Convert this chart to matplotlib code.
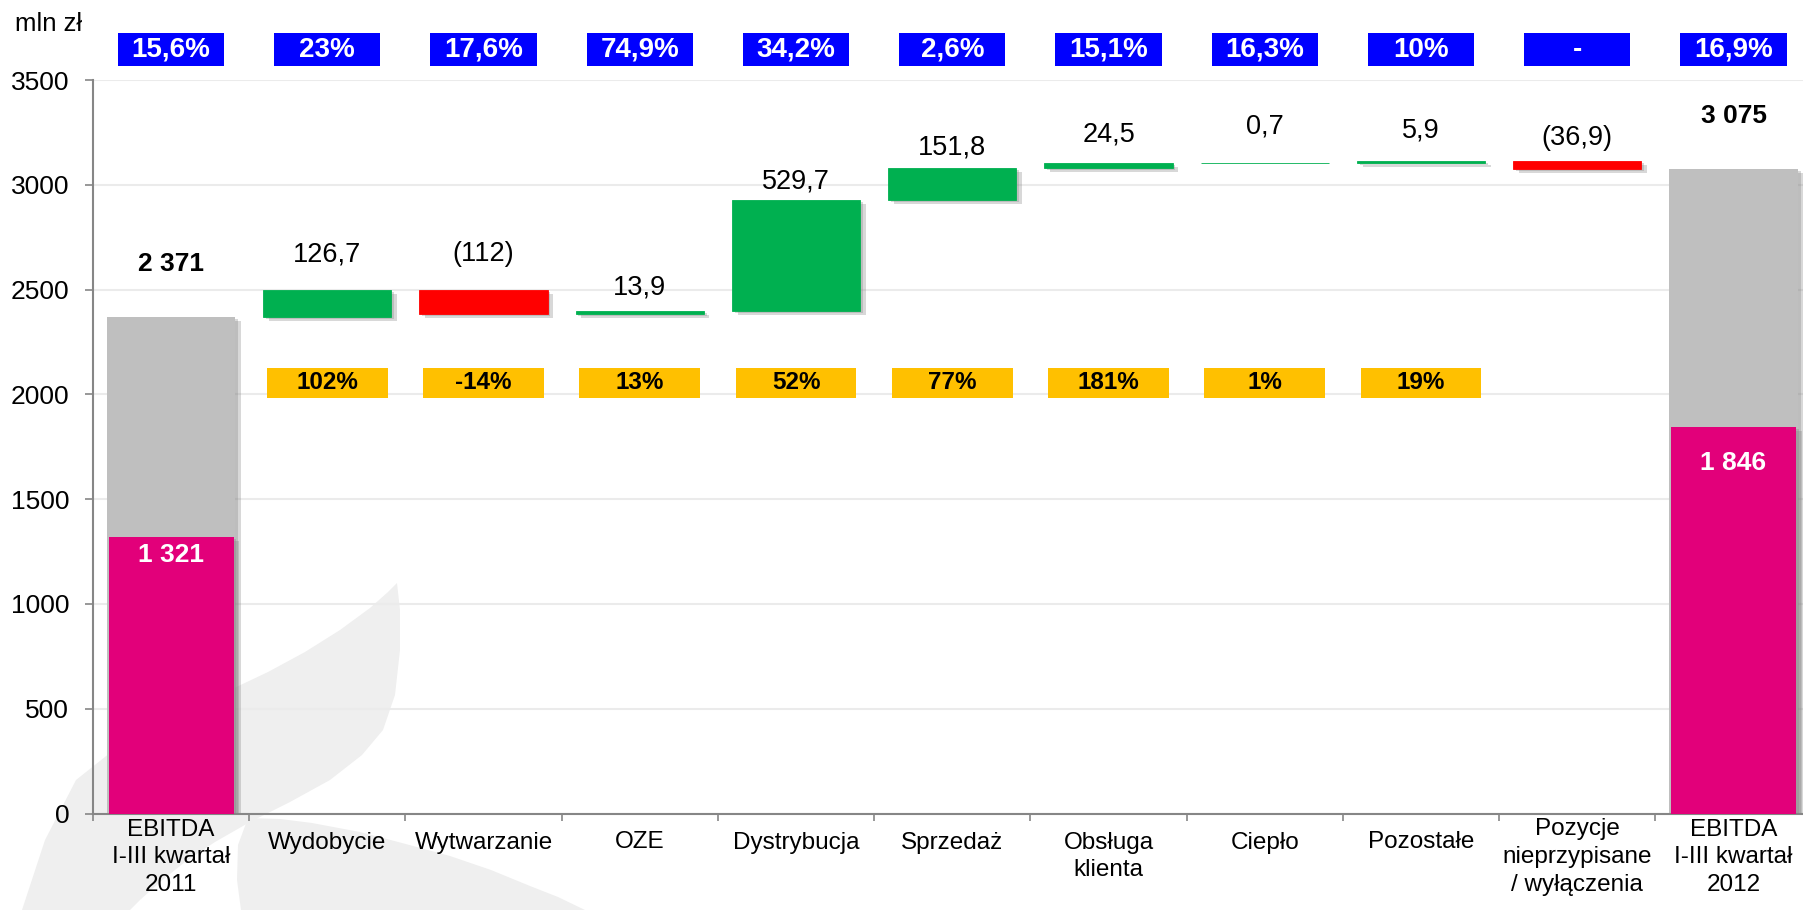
import numpy as np
import matplotlib
matplotlib.use('Agg')
import matplotlib.pyplot as plt
from matplotlib.patches import Rectangle, PathPatch
from matplotlib.path import Path
from matplotlib.transforms import blended_transform_factory
import matplotlib.patheffects as pe

plt.rcParams['font.family'] = ['Liberation Sans', 'DejaVu Sans']

# dane
categories = ['EBITDA\nI-III kwartał\n2011', 'Wydobycie', 'Wytwarzanie', 'OZE', 'Dystrybucja',
              'Sprzedaż', 'Obsługa\nklienta', 'Ciepło', 'Pozostałe',
              'Pozycje\nnieprzypisane\n/ wyłączenia', 'EBITDA\nI-III kwartał\n2012']
start_total = 2371
end_total = 3075
changes = [126.7, -112, 13.9, 529.7, 151.8, 24.5, 0.7, 5.9, -36.9]
pink_part = [1321, 1846]
margins = ['15,6%', '23%', '17,6%', '74,9%', '34,2%', '2,6%', '15,1%', '16,3%', '10%', '-', '16,9%']
growth = ['102%', '-14%', '13%', '52%', '77%', '181%', '1%', '19%']

# kolory
c_grey = '#BFBFBF'
c_pink = '#E2007A'
c_green = '#00B050'
c_red = '#FF0000'
c_blue = '#0000FF'
c_yellow = '#FFC000'
c_axis = '#868686'

# odstepy etykiet nad slupkami (piksele)
label_gap = [36, 36, 23, 18, 20, 28, 36, 31, 23]

W, H = 1803, 910
fig = plt.figure(figsize=(W / 100, H / 100), dpi=100)
fig.patch.set_facecolor('white')


def px(x, y):
    return (x / W, 1 - y / H)


# znak wodny w tle
wm_a = [(22, 910), (45, 840), (76, 780), (120, 745), (175, 715), (230, 690), (268, 672),
        (305, 652), (340, 630), (370, 608), (388, 592), (397, 583),
        (400, 610), (400, 650), (395, 695), (383, 730), (362, 755), (330, 780), (290, 802),
        (250, 822), (215, 842), (185, 862), (160, 882), (140, 900), (130, 910)]
wm_b = [(248, 818), (280, 819), (312, 823), (360, 832), (402, 843), (450, 856), (491, 870),
        (530, 886), (558, 897), (585, 910), (241, 910), (237, 880), (238, 845)]
for pts in (wm_a, wm_b):
    verts = [px(*p) for p in pts] + [px(*pts[0])]
    codes = [Path.MOVETO] + [Path.LINETO] * (len(pts) - 1) + [Path.CLOSEPOLY]
    fig.patches.append(PathPatch(Path(verts, codes), transform=fig.transFigure,
                                 facecolor='#EFEFEF', edgecolor='none', zorder=-5))

ax = fig.add_axes([92.9 / W, (H - 813.5) / H, 1718.75 / W, (813.5 - 80) / H])
ax.set_facecolor('none')
ax.set_xlim(-0.5, 10.5)
ax.set_ylim(0, 3500)

shadow = [pe.SimplePatchShadow(offset=(4, -3), shadow_rgbFace='#808080', alpha=0.3),
          pe.SimplePatchShadow(offset=(2, -1.5), shadow_rgbFace='#808080', alpha=0.3),
          pe.Normal()]

# slupki poczatkowy i koncowy
for i, tot, pk in [(0, start_total, pink_part[0]), (10, end_total, pink_part[1])]:
    ax.bar(i, tot, width=0.825, color=c_grey, zorder=2, path_effects=shadow)
    ax.bar(i, pk, width=0.80, color=c_pink, zorder=3, path_effects=shadow)
    ax.annotate('{:,}'.format(tot).replace(',', ' '), (i, tot), xytext=(0, 53),
                textcoords='offset pixels', ha='center', va='center',
                fontsize=19, fontweight='bold')

ax.annotate('{:,}'.format(pink_part[0]).replace(',', ' '), (0, pink_part[0]), xytext=(0, -18),
            textcoords='offset pixels', ha='center', va='center', fontsize=19,
            fontweight='bold', color='white', zorder=5)
ax.annotate('{:,}'.format(pink_part[1]).replace(',', ' '), (10, pink_part[1]), xytext=(0, -36),
            textcoords='offset pixels', ha='center', va='center', fontsize=19,
            fontweight='bold', color='white', zorder=5)

# kaskada
running = start_total
for k, v in enumerate(changes):
    i = k + 1
    bottom = running if v > 0 else running + v
    col = c_green if v > 0 else c_red
    ax.bar(i, abs(v), bottom=bottom, width=0.82, color=col, edgecolor=col, linewidth=0.6,
           zorder=2, path_effects=shadow)
    txt = '{:g}'.format(abs(v)).replace('.', ',')
    if v < 0:
        txt = '(' + txt + ')'
    top = max(running, running + v)
    ax.annotate(txt, (i, top), xytext=(0, label_gap[k]), textcoords='offset pixels',
                ha='center', va='center', fontsize=19.5)
    running += v

# zolte ramki z dynamika
for k, g in enumerate(growth):
    i = k + 1
    ax.add_patch(Rectangle((i - 0.387, 1984), 0.774, 142, facecolor=c_yellow,
                           edgecolor='none', zorder=4))
    ax.text(i, 2055, g, ha='center', va='center', fontsize=17.5, fontweight='bold', zorder=5)

# niebieskie ramki z marza
trans = blended_transform_factory(ax.transData, ax.transAxes)
for i, m in enumerate(margins):
    ax.add_patch(Rectangle((i - 0.34, 1.0195), 0.68, 0.044, transform=trans,
                           facecolor=c_blue, edgecolor='none', clip_on=False, zorder=4))
    ax.text(i, 1.0415, m, transform=trans, ha='center', va='center', fontsize=20,
            fontweight='bold', color='white', zorder=5)

# osie
ax.set_yticks(np.arange(0, 3501, 500))
ax.yaxis.grid(True, color='#EBEBEB', linewidth=1.5, zorder=0)
ax.set_axisbelow(True)
ax.tick_params(axis='y', direction='out', length=6, width=1.2, color=c_axis,
               labelsize=19, pad=11)
ax.set_xticks(np.arange(-0.5, 11, 1))
ax.set_xticklabels([])
ax.tick_params(axis='x', direction='out', length=5, width=1.2, color=c_axis)
for s in ['top', 'right']:
    ax.spines[s].set_visible(False)
for s in ['left', 'bottom']:
    ax.spines[s].set_color(c_axis)
    ax.spines[s].set_linewidth(1.5)

for i, c in enumerate(categories):
    off = 5 if c.count('\n') == 2 else 18
    ax.annotate(c, (i, 0), xycoords=('data', 'axes fraction'), xytext=(0, -off),
                textcoords='offset pixels', ha='center', va='top', fontsize=17.5,
                linespacing=1.33, annotation_clip=False)

fig.text(15 / W, 1 - 24 / H, 'mln zł', ha='left', va='center', fontsize=18.5)

fig.savefig('out.png', dpi=100)
